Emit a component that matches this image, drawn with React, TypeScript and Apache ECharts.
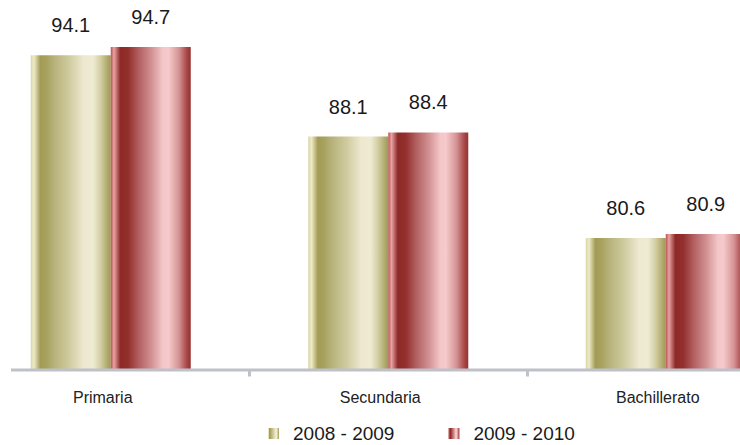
import React, { useEffect, useRef } from "react";
import * as echarts from "echarts";

const categories = ["Primaria", "Secundaria", "Bachillerato"];
const seriesNames = ["2008 - 2009", "2009 - 2010"];
const values2008 = [94.1, 88.1, 80.6];
const values2009 = [94.7, 88.4, 80.9];

const oliveGradient = () =>
  new echarts.graphic.LinearGradient(0, 0, 1, 0, [
    { offset: 0, color: "#d9d5a6" },
    { offset: 0.04, color: "#eeeac8" },
    { offset: 0.12, color: "#a39b55" },
    { offset: 0.2, color: "#a8a260" },
    { offset: 0.3, color: "#b8b37c" },
    { offset: 0.48, color: "#cfcb9f" },
    { offset: 0.66, color: "#ede8cf" },
    { offset: 0.78, color: "#efebd3" },
    { offset: 0.88, color: "#cfcb9e" },
    { offset: 1, color: "#9f9852" },
  ]);

const redGradient = () =>
  new echarts.graphic.LinearGradient(0, 0, 1, 0, [
    { offset: 0, color: "#b85050" },
    { offset: 0.04, color: "#e7a3a3" },
    { offset: 0.12, color: "#8d2927" },
    { offset: 0.22, color: "#93302e" },
    { offset: 0.35, color: "#b26060" },
    { offset: 0.5, color: "#d08e90" },
    { offset: 0.65, color: "#f3c6c8" },
    { offset: 0.72, color: "#f6cacc" },
    { offset: 0.85, color: "#d69496" },
    { offset: 0.95, color: "#a84848" },
    { offset: 1, color: "#963030" },
  ]);

const labelStyle = {
  show: true,
  position: "top" as const,
  distance: 20,
  fontFamily: "Liberation Sans, Arial, sans-serif",
  fontSize: 20,
  color: "#1a1a1a",
};

export default function App() {
  const ref = useRef<HTMLDivElement>(null);
  useEffect(() => {
    if (!ref.current) return;
    const chart = echarts.init(ref.current, undefined, { renderer: "svg" });
    chart.setOption({
      animation: false,
      backgroundColor: "#ffffff",
      grid: {
        left: -28,
        top: 20,
        width: 832.5,
        height: 349.5,
        containLabel: false,
        outerBoundsMode: "none",
      },
      legend: {
        left: 263,
        top: 419,
        padding: 5,
        itemWidth: 11,
        itemHeight: 11,
        itemGap: 54,
        icon: "rect",
        textStyle: {
          fontFamily: "Liberation Sans, Arial, sans-serif",
          fontSize: 19,
          lineHeight: 19,
          color: "#1a1a1a",
          padding: [0, 0, 0, 9],
        },
        data: seriesNames,
      },
      graphic: [
        {
          type: "line",
          shape: { x1: 11, y1: 370, x2: 740, y2: 370 },
          style: { stroke: "#bfc1ca", lineWidth: 3 },
          z: 10,
        },
      ],
      xAxis: {
        type: "category",
        data: categories,
        axisLine: { show: false },
        axisTick: {
          show: true,
          length: 7,
          lineStyle: { color: "#bfc1ca", width: 3 },
        },
        axisLabel: {
          margin: 20,
          fontFamily: "Liberation Sans, Arial, sans-serif",
          fontSize: 16,
          color: "#222222",
          padding: [0, 16, 0, 0],
        },
      },
      yAxis: {
        type: "value",
        min: 70.9,
        max: 96.7,
        show: false,
        splitLine: { show: false },
      },
      series: [
        {
          name: seriesNames[0],
          type: "bar",
          data: values2008,
          barWidth: 80,
          barGap: "0%",
          itemStyle: { color: oliveGradient() },
          label: labelStyle,
        },
        {
          name: seriesNames[1],
          type: "bar",
          data: values2009,
          barWidth: 80,
          barGap: "0%",
          itemStyle: { color: redGradient() },
          label: labelStyle,
        },
      ],
    });
    return () => chart.dispose();
  }, []);
  return <div ref={ref} style={{ width: 740, height: 445, position: "absolute", left: 0, top: 0 }} />;
}
